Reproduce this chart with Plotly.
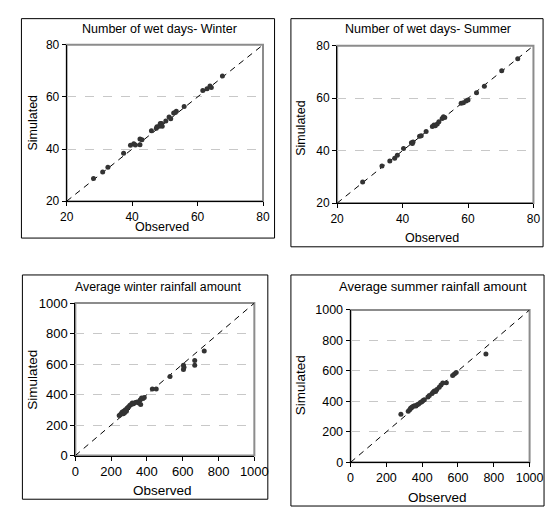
import plotly.graph_objects as go

W, H = 559, 515

# ---- data ----
winter_days_obs = [28.2, 31.0, 32.6, 37.4, 39.5, 40.5, 41.0, 42.4, 42.4, 43.0, 45.9, 47.4, 47.6, 48.3,
                   48.6, 49.0, 49.2, 50.3, 51.3, 51.8, 52.7, 53.5, 53.2, 55.9, 61.6, 62.9, 63.8, 64.2, 67.6]
winter_days_sim = [28.7, 31.2, 33.0, 38.4, 41.5, 42.0, 41.6, 41.7, 43.9, 43.6, 47.0, 48.0, 48.6, 48.8,
                   49.8, 49.8, 48.8, 50.8, 52.3, 51.6, 53.8, 54.5, 54.0, 56.3, 62.5, 63.2, 64.2, 63.6, 68.0]

summer_days_obs = [27.8, 33.7, 36.1, 37.6, 38.4, 40.3, 42.7, 43.2, 43.0, 45.2, 45.7, 47.2, 49.1, 49.6,
                   50.0, 50.6, 51.1, 52.1, 52.5, 52.9, 57.9, 58.6, 59.4, 60.0, 62.6, 65.0, 70.3, 75.2]
summer_days_sim = [28.1, 34.2, 36.1, 37.1, 38.3, 40.8, 43.0, 43.3, 42.7, 45.5, 45.7, 47.3, 49.2, 49.8,
                   49.5, 50.2, 51.0, 52.3, 52.9, 52.7, 58.1, 58.3, 59.0, 59.3, 62.1, 64.6, 70.5, 75.1]

winter_rain_obs = [245, 252, 258, 262, 268, 272, 275, 280, 285, 290, 298, 305, 312, 318, 325, 335,
                   345, 355, 362, 365, 370, 378, 385, 430, 452, 529, 604, 604, 607, 667, 667, 720]
winter_rain_sim = [262, 270, 278, 285, 275, 292, 280, 300, 290, 312, 320, 330, 335, 345, 340, 348,
                   352, 345, 365, 335, 378, 375, 380, 437, 437, 518, 592, 565, 580, 624, 592, 686]

summer_rain_obs = [281, 322, 330, 335, 342, 350, 358, 365, 372, 380, 390, 398, 405, 412, 432, 440,
                   455, 462, 468, 475, 482, 495, 505, 515, 535, 570, 580, 590, 756]
summer_rain_sim = [316, 335, 345, 355, 362, 368, 372, 370, 378, 383, 392, 398, 405, 410, 428, 438,
                   452, 462, 468, 465, 478, 492, 508, 520, 522, 570, 580, 590, 710]

titles = ["Number of wet days- Winter", "Number of wet days- Summer",
          "Average winter rainfall amount", "Average summer rainfall amount"]
days_ticks = [20, 40, 60, 80]
rain_ticks = [0, 200, 400, 600, 800, 1000]
x_label = "Observed"
y_label = "Simulated"

panels = [
    dict(obs=winter_days_obs, sim=winter_days_sim, ticks=days_ticks,
         plot=(62, 39, 266, 200), box=(15, 12, 278, 238),
         title_xy=(158, 23), xt_xy=(161, 227), yt_xy=(27, 119),
         tick_fs=12, lab_fs=12.5, title_fs=12.5),
    dict(obs=summer_days_obs, sim=summer_days_sim, ticks=days_ticks,
         plot=(343, 40, 547, 202), box=(295, 12, 557, 247),
         title_xy=(437, 23), xt_xy=(442, 238), yt_xy=(306, 125),
         tick_fs=12, lab_fs=12.5, title_fs=12.5),
    dict(obs=winter_rain_obs, sim=winter_rain_sim, ticks=rain_ticks,
         plot=(71, 305, 257, 462), box=(16, 276, 271, 507),
         title_xy=(157, 288), xt_xy=(162, 498), yt_xy=(27, 384),
         tick_fs=13, lab_fs=13.5, title_fs=12.3),
    dict(obs=summer_rain_obs, sim=summer_rain_sim, ticks=rain_ticks,
         plot=(357, 312, 543, 469), box=(295, 276, 558, 514),
         title_xy=(443, 288), xt_xy=(447, 505), yt_xy=(305, 390),
         tick_fs=12.5, lab_fs=13.5, title_fs=13),
]

FONT = "Liberation Sans, Arial, sans-serif"
fig = go.Figure()
shapes = []
annotations = []
layout_axes = {}

for i, p in enumerate(panels):
    n = i + 1
    xa = "x" if n == 1 else f"x{n}"
    ya = "y" if n == 1 else f"y{n}"
    x0, y0, x1, y1 = p["plot"]
    lo, hi = p["ticks"][0], p["ticks"][-1]

    # 1:1 line
    fig.add_trace(go.Scatter(x=[lo, hi], y=[lo, hi], mode="lines",
                             line=dict(color="black", width=1, dash="6px,5px"),
                             xaxis=xa, yaxis=ya, showlegend=False, hoverinfo="skip"))
    fig.add_trace(go.Scatter(x=p["obs"], y=p["sim"], mode="markers",
                             marker=dict(color="#333333", size=5),
                             xaxis=xa, yaxis=ya, showlegend=False))

    common = dict(range=[lo, hi], tickvals=p["ticks"], showline=True, linecolor="black",
                  linewidth=1, ticks="outside", ticklen=4, tickcolor="black",
                  tickfont=dict(family=FONT, size=p["tick_fs"], color="black"),
                  zeroline=False, fixedrange=True)
    layout_axes["xaxis" if n == 1 else f"xaxis{n}"] = dict(
        common, domain=[x0 / W, x1 / W], anchor=ya, showgrid=False)
    layout_axes["yaxis" if n == 1 else f"yaxis{n}"] = dict(
        common, domain=[1 - y1 / H, 1 - y0 / H], anchor=xa, showgrid=True,
        gridcolor="#c8c8c8", gridwidth=1, griddash="dash")

    # gray plot-area border (top/right)
    shapes.append(dict(type="rect", xref="paper", yref="paper",
                       x0=x0 / W, x1=x1 / W, y0=1 - y1 / H, y1=1 - y0 / H,
                       line=dict(color="#8c8c8c", width=2), layer="below"))
    # outer box
    bx0, by0, bx1, by1 = p["box"]
    shapes.append(dict(type="rect", xref="paper", yref="paper",
                       x0=bx0 / W, x1=bx1 / W, y0=1 - by1 / H, y1=1 - by0 / H,
                       line=dict(color="black", width=1), layer="below"))

    tx, ty = p["title_xy"]
    annotations.append(dict(text=titles[i], x=tx / W, y=1 - ty / H, xref="paper", yref="paper",
                            showarrow=False, xanchor="center", yanchor="middle",
                            font=dict(family=FONT, size=p["title_fs"], color="black")))
    ox, oy = p["xt_xy"]
    annotations.append(dict(text=x_label, x=ox / W, y=1 - oy / H, xref="paper", yref="paper",
                            showarrow=False, xanchor="center", yanchor="middle",
                            font=dict(family=FONT, size=p["lab_fs"], color="black")))
    sx, sy = p["yt_xy"]
    annotations.append(dict(text=y_label, x=sx / W, y=1 - sy / H, xref="paper", yref="paper",
                            showarrow=False, xanchor="center", yanchor="middle", textangle=-90,
                            font=dict(family=FONT, size=p["lab_fs"], color="black")))

fig.update_layout(width=W, height=H, margin=dict(l=0, r=0, t=0, b=0),
                  paper_bgcolor="white", plot_bgcolor="white",
                  shapes=shapes, annotations=annotations, **layout_axes)

fig.write_html("out.html", config={"displayModeBar": False})
